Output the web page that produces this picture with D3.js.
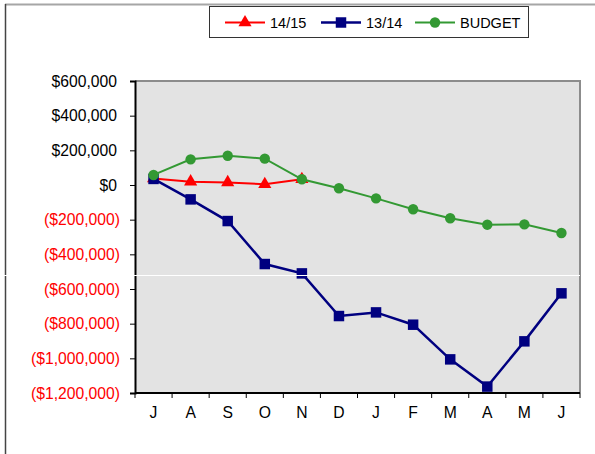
<!DOCTYPE html>
<html lang="en">
<head>
  <meta charset="UTF-8">
  <title>Monthly Result vs Budget</title>
  <script src="https://d3js.org/d3.v7.min.js"></script>
  <style>
    body {
      margin: 0;
      background: #fff;
      font-family: "Liberation Sans", Arial, sans-serif;
    }
  </style>
</head>
<body>
  <svg id="chart" width="595" height="454"></svg>

  <script>
const months = ["J", "A", "S", "O", "N", "D", "J", "F", "M", "A", "M", "J"];
const yTicks = [600000, 400000, 200000, 0, -200000, -400000, -600000, -800000, -1000000, -1200000];

// 14/15 only runs to November
const fy1415 = [38000, 19000, 15000, 4000, 33000];
const fy1314 = [35000, -83000, -208000, -456000, -510000, -756000, -735000, -806000, -1006000, -1163000, -902000, -625000];
const budget = [58000, 148000, 169000, 152000, 33000, -19000, -77000, -140000, -192000, -229000, -227000, -277000];

const seriesNames = ["14/15", "13/14", "BUDGET"];

const svg = d3.select("#chart");
const margin = { top: 81, right: 15, bottom: 61, left: 135 };
const width = 595, height = 454;
const innerW = width - margin.left - margin.right;
const innerH = height - margin.top - margin.bottom;

// outer frame
svg.append("line").attr("x1", 5).attr("x2", 595).attr("y1", 4.5).attr("y2", 4.5)
  .attr("stroke", "#a6a6a6").attr("stroke-width", 2);
svg.append("line").attr("x1", 5.5).attr("x2", 5.5).attr("y1", 4).attr("y2", 454)
  .attr("stroke", "#444").attr("stroke-width", 1.5);

const x = d3.scaleBand().domain(d3.range(months.length)).range([0, innerW]);
const y = d3.scaleLinear().domain([-1200000, 600000]).range([innerH, 0]);

const g = svg.append("g").attr("transform", `translate(${margin.left},${margin.top})`);

g.append("rect").attr("width", innerW).attr("height", innerH).attr("fill", "#e3e3e3");
// top and right edges grey
g.append("path").attr("d", `M0,0H${innerW}V${innerH}`)
  .attr("fill", "none").attr("stroke", "#8c8c8c").attr("stroke-width", 2);

// y axis
const fmt = v => v < 0 ? "($" + d3.format(",")(-v) + ")" : "$" + d3.format(",")(v);
const yAxis = g.append("g").call(d3.axisLeft(y).tickValues(yTicks).tickSize(5).tickFormat(fmt));
yAxis.attr("font-size", null).attr("font-family", null);
yAxis.select(".domain").attr("stroke", "#000").attr("stroke-width", 2);
yAxis.selectAll(".tick line").attr("stroke", "#000");
yAxis.selectAll(".tick text")
  .attr("x", d => d < 0 ? -15 : -18)
  .attr("fill", d => d < 0 ? "#ff0000" : "#000")
  .attr("font-size", "15.7px");

// x axis: ticks on category boundaries
const xAxisG = g.append("g").attr("transform", `translate(0,${innerH})`);
xAxisG.append("line").attr("x1", 0).attr("x2", innerW).attr("stroke", "#000").attr("stroke-width", 2);
xAxisG.selectAll(".xt").data(d3.range(months.length + 1)).enter().append("line")
  .attr("x1", d => d * x.step()).attr("x2", d => d * x.step())
  .attr("y1", 0).attr("y2", 5).attr("stroke", "#000");
xAxisG.selectAll("text").data(months).enter().append("text")
  .attr("x", (d, i) => x(i) + x.bandwidth() / 2)
  .attr("y", 25)
  .attr("text-anchor", "middle")
  .attr("font-size", "15.7px")
  .text(d => d);

const cx = i => x(i) + x.bandwidth() / 2;
const line = d3.line().x((d, i) => cx(i)).y(d => y(d));

const tri = d3.symbol().type(d3.symbolTriangle).size(75);
const sq = d3.symbol().type(d3.symbolSquare).size(110);
const circ = d3.symbol().type(d3.symbolCircle).size(85);

const series = [
  { name: seriesNames[0], values: fy1415, color: "#ff0000", sym: tri, w: 2 },
  { name: seriesNames[1], values: fy1314, color: "#000080", sym: sq, w: 2.5 },
  { name: seriesNames[2], values: budget, color: "#339933", sym: circ, w: 2 }
];

series.forEach(s => {
  g.append("path").datum(s.values).attr("d", line)
    .attr("fill", "none").attr("stroke", s.color).attr("stroke-width", s.w);
  g.selectAll(null).data(s.values).enter().append("path")
    .attr("d", s.sym)
    .attr("transform", (d, i) => `translate(${cx(i)},${y(d)})`)
    .attr("fill", s.color);
});

// legend
const legend = svg.append("g");
legend.append("rect").attr("x", 209.5).attr("y", 6.5).attr("width", 319).attr("height", 31)
  .attr("fill", "#fff").attr("stroke", "#333").attr("stroke-width", 1);
const legX = [225, 321, 415];
series.forEach((s, i) => {
  const lg = legend.append("g").attr("transform", `translate(${legX[i]},22.5)`);
  lg.append("line").attr("x1", 0).attr("x2", 40).attr("stroke", s.color).attr("stroke-width", s.w);
  lg.append("path").attr("d", s.sym).attr("transform", "translate(20,0)").attr("fill", s.color);
  lg.append("text").attr("x", 45).attr("y", 5.5).attr("font-size", "14.5px").text(s.name);
});

// white horizontal streak across the picture
svg.append("line").attr("x1", 0).attr("x2", 580).attr("y1", 275.5).attr("y2", 275.5)
  .attr("stroke", "#fff").attr("stroke-width", 1);
  </script>
</body>
</html>
